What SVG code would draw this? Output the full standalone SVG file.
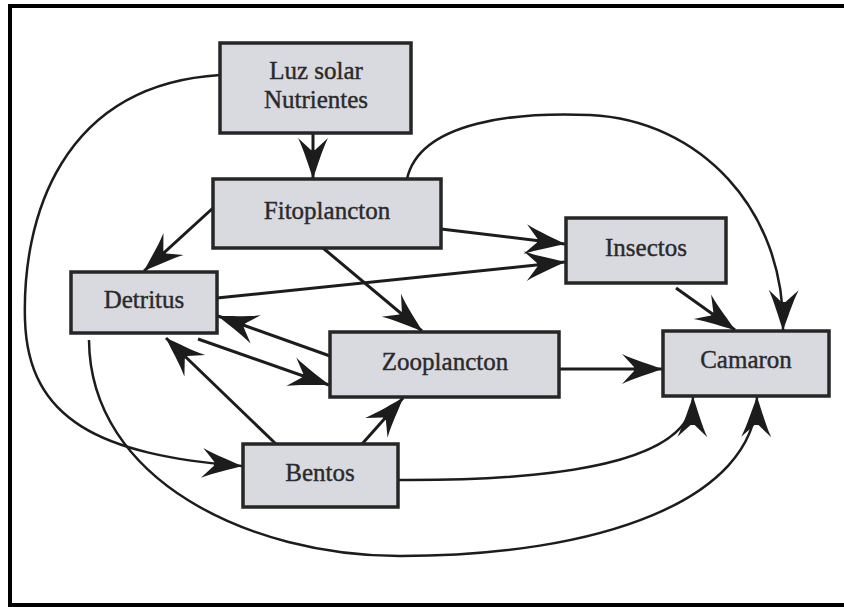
<svg xmlns="http://www.w3.org/2000/svg" width="844" height="607" viewBox="0 0 844 607">
<style>
.box{fill:#d9dae0;stroke:#262626;stroke-width:3.5}
.lbl{font-family:"Liberation Serif","Times New Roman",serif;font-size:25px;fill:#2a2a2a;stroke:#2a2a2a;stroke-width:0.4;text-anchor:middle}
.c{fill:none;stroke:#1c1c1c;stroke-width:3;marker-end:url(#ah)}
.t{fill:none;stroke:#1c1c1c;stroke-width:2.5;marker-end:url(#ah)}
</style>
<defs>
<marker id="ah" markerUnits="userSpaceOnUse" markerWidth="50" markerHeight="36" viewBox="-44 -18 50 36" refX="0" refY="0" orient="auto" overflow="visible">
<path d="M0,0 C-10,-4 -28,-9 -40,-15 L-28,-2 L-28,2 L-40,15 C-28,9 -10,4 0,0 Z" fill="#1c1c1c"/>
</marker>
</defs>
<rect x="0" y="0" width="844" height="607" fill="#ffffff"/>
<path d="M10,607 L10,6 L844,6 M10,605 L844,605" fill="none" stroke="#000" stroke-width="4"/>
<g id="connectors">
<path class="c" d="M313,133 L313,178"/>
<path class="t" d="M220,75 C60,85 22,220 25,320 C28,420 100,455 242,466"/>
<path class="c" d="M213,208 L144,271"/>
<path class="c" d="M441,229 L565,244"/>
<path class="c" d="M217,298 L565,262"/>
<path class="c" d="M323,248 L422,331"/>
<path class="t" d="M407,179 C420,120 520,112 590,115 C700,120 785,210 783,330"/>
<path class="c" d="M676,288 L735,330"/>
<path class="c" d="M330,356 L218,316"/>
<path class="c" d="M198,339 L329,385"/>
<path class="c" d="M276,444 L166,338"/>
<path class="c" d="M362,444 L403,398"/>
<path class="c" d="M559,369 L662,369"/>
<path class="t" d="M398,480 C560,481 692,462 693,397"/>
<path class="t" d="M89,340 C90,480 250,556 400,556 C600,556 755,500 757,397"/>
</g>
<g id="luz">
<rect class="box" x="220" y="43" width="191" height="90"/>
<text class="lbl" x="316" y="79">Luz solar</text>
<text class="lbl" x="316" y="108">Nutrientes</text>
</g>
<g id="fitoplancton">
<rect class="box" x="213" y="179" width="228" height="69"/>
<text class="lbl" x="327" y="219">Fitoplancton</text>
</g>
<g id="detritus">
<rect class="box" x="71" y="272" width="146" height="61"/>
<text class="lbl" x="144" y="308">Detritus</text>
</g>
<g id="insectos">
<rect class="box" x="566" y="218" width="160" height="65"/>
<text class="lbl" x="646" y="256">Insectos</text>
</g>
<g id="zooplancton">
<rect class="box" x="330" y="332" width="229" height="65"/>
<text class="lbl" x="445" y="370">Zooplancton</text>
</g>
<g id="camaron">
<rect class="box" x="663" y="331" width="166" height="65"/>
<text class="lbl" x="746" y="368">Camaron</text>
</g>
<g id="bentos">
<rect class="box" x="243" y="444" width="155" height="63"/>
<text class="lbl" x="320" y="481">Bentos</text>
</g>
</svg>
